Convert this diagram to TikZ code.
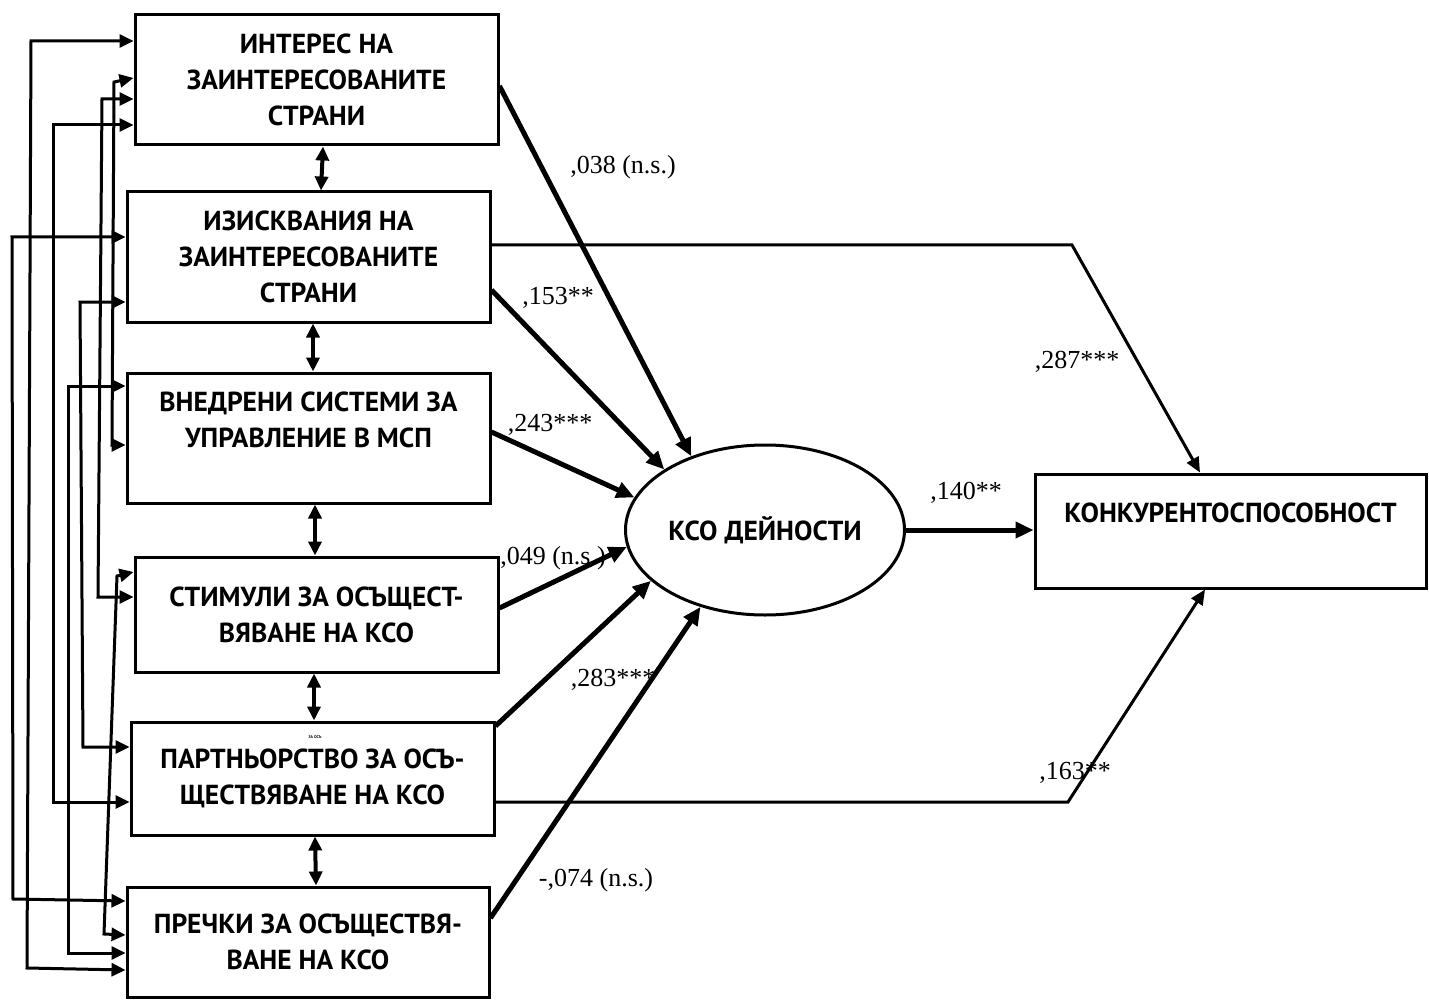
\documentclass[tikz,border=0pt]{standalone}
\usepackage{fontspec}
\setmainfont{Liberation Serif}
\newfontfamily\boxfont{PT Sans}
\usetikzlibrary{shapes.geometric,arrows.meta}

\begin{document}
\begin{tikzpicture}[x=1pt, y=-1pt,
    box/.style={draw, line width=3pt, inner sep=0pt, align=center,
                font=\boxfont\bfseries\fontsize{27.5}{36}\selectfont},
    lbl/.style={font=\fontsize{26}{30}\selectfont},
    lbltiny/.style={font=\boxfont\bfseries\fontsize{4}{5}\selectfont, inner sep=0pt},
    effect/.style={line width=5pt, -{Triangle[length=18pt,width=16pt]}},
    effthin/.style={line width=3pt, -{Triangle[length=15pt,width=13pt]}},
    cov/.style={line width=4pt, {Triangle[length=14pt,width=13pt]}-{Triangle[length=14pt,width=13pt]}},
    corr/.style={line width=3pt, {Triangle[length=14pt,width=13pt]}-{Triangle[length=14pt,width=13pt]}}
  ]
  \useasboundingbox (0,0) rectangle (1429,1000);

  % Exogenous factors
  \node[box, minimum width=363, minimum height=130] (b1) at (316.5,80) {ИНТЕРЕС НА\\ЗАИНТЕРЕСОВАНИТЕ\\СТРАНИ};
  \node[box, minimum width=363, minimum height=130] (b2) at (308.5,257) {ИЗИСКВАНИЯ НА\\ЗАИНТЕРЕСОВАНИТЕ\\СТРАНИ};
  \node[box, minimum width=363, minimum height=130] (b3) at (308.5,438) {ВНЕДРЕНИ СИСТЕМИ ЗА\\УПРАВЛЕНИЕ В МСП\\~};
  \node[box, minimum width=363, minimum height=115] (b4) at (316.5,614.5) {СТИМУЛИ ЗА ОСЪЩЕСТ-\\ВЯВАНЕ НА КСО};
  \node[box, minimum width=363, minimum height=113] (b5) at (312.5,778.5) {ПАРТНЬОРСТВО ЗА ОСЪ-\\ЩЕСТВЯВАНЕ НА КСО};
  \node[lbltiny] (zaos) at (315,737) {ЗА ОСЪ};
  \node[box, minimum width=362, minimum height=110] (b6) at (308,942) {ПРЕЧКИ ЗА ОСЪЩЕСТВЯ-\\ВАНЕ НА КСО};

  % Mediator and outcome
  \node[box, ellipse, minimum width=279, minimum height=170] (ksd) at (765,530) {КСО ДЕЙНОСТИ};
  \node[box, minimum width=391, minimum height=114] (b7) at (1230.5,531) {КОНКУРЕНТОСПОСОБНОСТ\\~};

  % Paths to KSO
  \draw[effect] (b1.east |- 0,86) -- (ksd.135);
  \draw[effect] (b2.east |- 0,290) -- (ksd.149);
  \draw[effect] (b3.east |- 0,432) -- (ksd.166);
  \draw[effect] (b4.east |- 0,608) -- (ksd.187);
  \draw[effect] (b5.east |- 0,726) -- (ksd.204);
  \draw[effect] (b6.east |- 0,918) -- (ksd.230);
  \draw[effect] (ksd.east) -- (b7.west |- ksd.east);

  % Direct paths to competitiveness
  \draw[effthin] (b2.east |- 0,245) -- (1072,245) -- (b7.north -| 1200,0);
  \draw[effthin] (b5.east |- 0,802) -- (1068,802) -- (b7.south -| 1205,0);

  % Neighbour covariances
  \draw[cov] (b1.south -| 323,0) -- (b2.north -| 321,0);
  \draw[cov] (b2.south -| 313,0) -- (b3.north -| 313,0);
  \draw[cov] (b3.south -| 315,0) -- (b4.north -| 315,0);
  \draw[cov] (b4.south -| 314,0) -- (b5.north -| 314,0);
  \draw[cov] (b5.south -| 315,0) -- (b6.north -| 316,0);

  % Covariances on the left
  \draw[corr] (b1.west |- 0,41) -- (31,41) -- (27,968) -- (b6.west |- 0,970);
  \draw[corr] (b1.west |- 0,78) -- (114,82) -- (112,445) -- (b3.west |- 0,445);
  \draw[corr] (b1.west |- 0,99) -- (102,99) -- (98,597) -- (b4.west |- 0,597);
  \draw[corr] (b1.west |- 0,125) -- (53,125) -- (53,802) -- (b5.west |- 0,802);
  \draw[corr] (b2.west |- 0,237) -- (12,237) -- (13,899) -- (b6.west |- 0,901);
  \draw[corr] (b2.west |- 0,302) -- (80,302) -- (83,747) -- (b5.west |- 0,747);
  \draw[corr] (b3.west |- 0,386) -- (68,386) -- (68,953) -- (b6.west |- 0,953);
  \draw[corr] (b4.west |- 0,572) -- (117,576) -- (104,934) -- (b6.west |- 0,935);

  % Coefficients
  \node[lbl] (l038) at (623,167) {,038 (n.s.)};
  \node[lbl] (l153) at (558,298) {,153**};
  \node[lbl] (l243) at (550,425) {,243***};
  \node[lbl] (l049) at (553,558) {,049 (n.s.)};
  \node[lbl] (l283) at (613,680) {,283***};
  \node[lbl] (l074) at (596,880) {-,074 (n.s.)};
  \node[lbl] (l140) at (966,493) {,140**};
  \node[lbl] (l287) at (1077,362) {,287***};
  \node[lbl] (l163) at (1075,773) {,163**};
\end{tikzpicture}
\end{document}
